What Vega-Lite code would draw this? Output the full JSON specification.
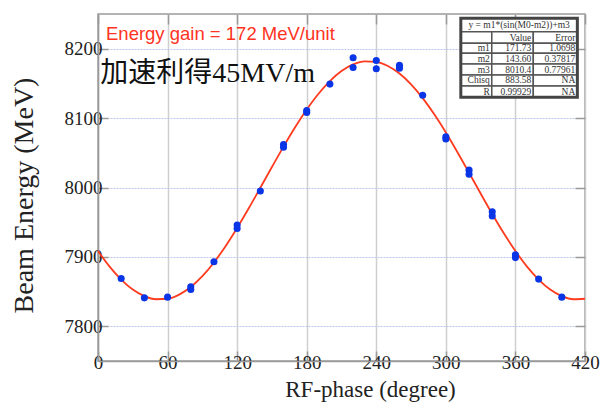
{
  "$schema": "https://vega.github.io/schema/vega-lite/v6.json",
  "width": 487,
  "height": 347,
  "autosize": {"type": "none"},
  "padding": {"left": 98, "top": 14, "right": 16, "bottom": 51},
  "background": "white",
  "config": {"view": {"stroke": "#9a9a9a", "strokeWidth": 1.5}, "font": "Liberation Serif"},
  "resolve": {"axis": {"x": "independent", "y": "independent"}},
  "datasets": {
    "fit": [
      {"phase": 0, "energy": 7908.5}, {"phase": 10, "energy": 7886.0}, {"phase": 20, "energy": 7867.4},
      {"phase": 30, "energy": 7853.0}, {"phase": 40, "energy": 7843.5}, {"phase": 50, "energy": 7839.0},
      {"phase": 60, "energy": 7839.7}, {"phase": 70, "energy": 7845.7}, {"phase": 80, "energy": 7856.6},
      {"phase": 90, "energy": 7872.2}, {"phase": 100, "energy": 7892.0}, {"phase": 110, "energy": 7915.4},
      {"phase": 120, "energy": 7941.6}, {"phase": 130, "energy": 7970.0}, {"phase": 140, "energy": 7999.6},
      {"phase": 150, "energy": 8029.5}, {"phase": 160, "energy": 8058.9}, {"phase": 170, "energy": 8086.8},
      {"phase": 180, "energy": 8112.3}, {"phase": 190, "energy": 8134.8}, {"phase": 200, "energy": 8153.4},
      {"phase": 210, "energy": 8167.8}, {"phase": 220, "energy": 8177.3}, {"phase": 230, "energy": 8181.8},
      {"phase": 240, "energy": 8181.1}, {"phase": 250, "energy": 8175.1}, {"phase": 260, "energy": 8164.2},
      {"phase": 270, "energy": 8148.6}, {"phase": 280, "energy": 8128.8}, {"phase": 290, "energy": 8105.4},
      {"phase": 300, "energy": 8079.2}, {"phase": 310, "energy": 8050.8}, {"phase": 320, "energy": 8021.2},
      {"phase": 330, "energy": 7991.3}, {"phase": 340, "energy": 7961.9}, {"phase": 350, "energy": 7934.0},
      {"phase": 360, "energy": 7908.5}, {"phase": 370, "energy": 7886.0}, {"phase": 380, "energy": 7867.4},
      {"phase": 390, "energy": 7853.0}, {"phase": 400, "energy": 7843.5}, {"phase": 410, "energy": 7839.0},
      {"phase": 420, "energy": 7839.7}
    ],
    "meas": [
      {"phase": 20, "energy": 7869}, {"phase": 40, "energy": 7841}, {"phase": 60, "energy": 7842},
      {"phase": 80, "energy": 7857}, {"phase": 80, "energy": 7853}, {"phase": 100, "energy": 7893},
      {"phase": 120, "energy": 7946}, {"phase": 120, "energy": 7941}, {"phase": 140, "energy": 7995},
      {"phase": 160, "energy": 8062}, {"phase": 160, "energy": 8058}, {"phase": 180, "energy": 8111},
      {"phase": 180, "energy": 8108}, {"phase": 200, "energy": 8149}, {"phase": 220, "energy": 8187},
      {"phase": 220, "energy": 8173}, {"phase": 240, "energy": 8183}, {"phase": 240, "energy": 8171},
      {"phase": 260, "energy": 8176}, {"phase": 260, "energy": 8172}, {"phase": 280, "energy": 8133},
      {"phase": 300, "energy": 8073}, {"phase": 300, "energy": 8070}, {"phase": 320, "energy": 8025},
      {"phase": 320, "energy": 8019}, {"phase": 340, "energy": 7965}, {"phase": 340, "energy": 7959},
      {"phase": 360, "energy": 7903}, {"phase": 360, "energy": 7899}, {"phase": 380, "energy": 7868},
      {"phase": 400, "energy": 7842}
    ],
    "cells": [
      {"x1": 312.9, "x2": 413.4, "y1": 8243.8, "y2": 8224.5},
      {"x1": 312.9, "x2": 339.6, "y1": 8224.5, "y2": 8207.8}, {"x1": 339.6, "x2": 375.4, "y1": 8224.5, "y2": 8207.8}, {"x1": 375.4, "x2": 413.4, "y1": 8224.5, "y2": 8207.8},
      {"x1": 312.9, "x2": 339.6, "y1": 8207.8, "y2": 8193.4}, {"x1": 339.6, "x2": 375.4, "y1": 8207.8, "y2": 8193.4}, {"x1": 375.4, "x2": 413.4, "y1": 8207.8, "y2": 8193.4},
      {"x1": 312.9, "x2": 339.6, "y1": 8193.4, "y2": 8178}, {"x1": 339.6, "x2": 375.4, "y1": 8193.4, "y2": 8178}, {"x1": 375.4, "x2": 413.4, "y1": 8193.4, "y2": 8178},
      {"x1": 312.9, "x2": 339.6, "y1": 8178, "y2": 8162.1}, {"x1": 339.6, "x2": 375.4, "y1": 8178, "y2": 8162.1}, {"x1": 375.4, "x2": 413.4, "y1": 8178, "y2": 8162.1},
      {"x1": 312.9, "x2": 339.6, "y1": 8162.1, "y2": 8146.3}, {"x1": 339.6, "x2": 375.4, "y1": 8162.1, "y2": 8146.3}, {"x1": 375.4, "x2": 413.4, "y1": 8162.1, "y2": 8146.3},
      {"x1": 312.9, "x2": 339.6, "y1": 8146.3, "y2": 8130}, {"x1": 339.6, "x2": 375.4, "y1": 8146.3, "y2": 8130}, {"x1": 375.4, "x2": 413.4, "y1": 8146.3, "y2": 8130}
    ],
    "outer": [{"x1": 312.9, "x2": 413.4, "y1": 8243.8, "y2": 8130}],
    "celltext": [
      {"x": 375.4, "y": 8216, "t": "Value"}, {"x": 413.4, "y": 8216, "t": "Error"},
      {"x": 339.6, "y": 8200.6, "t": "m1"}, {"x": 375.4, "y": 8200.6, "t": "171.73"}, {"x": 413.4, "y": 8200.6, "t": "1.0698"},
      {"x": 339.6, "y": 8185.6, "t": "m2"}, {"x": 375.4, "y": 8185.6, "t": "143.60"}, {"x": 413.4, "y": 8185.6, "t": "0.37817"},
      {"x": 339.6, "y": 8170, "t": "m3"}, {"x": 375.4, "y": 8170, "t": "8010.4"}, {"x": 413.4, "y": 8170, "t": "0.77961"},
      {"x": 339.6, "y": 8154.2, "t": "Chisq"}, {"x": 375.4, "y": 8154.2, "t": "883.58"}, {"x": 413.4, "y": 8154.2, "t": "NA"},
      {"x": 339.6, "y": 8138, "t": "R"}, {"x": 375.4, "y": 8138, "t": "0.99929"}, {"x": 413.4, "y": 8138, "t": "NA"}
    ],
    "header": [{"x": 363.2, "y": 8234, "t": "y = m1*(sin(M0-m2))+m3"}],
    "note1": [{"x": 6.9, "y": 8212.5, "t": "Energy gain = 172 MeV/unit"}],
    "note2": [{"x": 2, "y": 8152, "t": "加速利得45MV/m"}]
  },
  "layer": [
    {
      "data": {"name": "fit"},
      "mark": {"type": "line", "color": "#ff3b1f", "strokeWidth": 1.8, "interpolate": "monotone"},
      "encoding": {
        "x": {
          "field": "phase", "type": "quantitative",
          "scale": {"domain": [0, 420], "nice": false, "zero": false},
          "axis": {
            "values": [0, 60, 120, 180, 240, 300, 360, 420],
            "title": "RF-phase (degree)", "titleFont": "Liberation Serif", "titleFontSize": 23,
            "titleFontWeight": "normal", "titleColor": "#222", "titleX": 272, "titleY": 35,
            "titleBaseline": "alphabetic",
            "labelFont": "Liberation Serif", "labelFontSize": 19, "labelColor": "#222",
            "labelPadding": 2, "labelFlush": false,
            "grid": true, "gridColor": "#cfcfcf", "gridWidth": 1.5,
            "domainColor": "#9a9a9a", "domainWidth": 1.5,
            "tickColor": "#9a9a9a", "tickSize": -10, "tickWidth": 1.5
          }
        },
        "y": {
          "field": "energy", "type": "quantitative",
          "scale": {"domain": [7750, 8250], "nice": false, "zero": false},
          "axis": {
            "values": [7800, 7900, 8000, 8100, 8200], "format": "d",
            "title": "Beam Energy (MeV)", "titleFont": "Liberation Serif", "titleFontSize": 28,
            "titleFontWeight": "normal", "titleColor": "#222", "titleX": -66, "titleY": 181,
            "titleBaseline": "alphabetic", "titleAngle": -90,
            "labelFont": "Liberation Serif", "labelFontSize": 19, "labelColor": "#222",
            "labelPadding": 6,
            "grid": true, "gridColor": "#bcc6ea", "gridWidth": 1, "gridDash": [2, 1],
            "domainColor": "#9a9a9a", "domainWidth": 1.5,
            "tickColor": "#9a9a9a", "tickSize": -10, "tickWidth": 1.5
          }
        }
      }
    },
    {
      "data": {"name": "meas"},
      "mark": {"type": "circle", "color": "#0a35e6", "opacity": 1, "size": 50},
      "encoding": {
        "x": {"field": "phase", "type": "quantitative",
          "axis": {"orient": "top", "values": [0, 60, 120, 180, 240, 300, 360, 420], "labels": false, "title": null, "grid": false, "domain": false, "tickColor": "#9a9a9a", "tickSize": -10, "tickWidth": 1.5}},
        "y": {"field": "energy", "type": "quantitative",
          "axis": {"orient": "right", "values": [7800, 7900, 8000, 8100, 8200], "labels": false, "title": null, "grid": false, "domain": false, "tickColor": "#9a9a9a", "tickSize": -10, "tickWidth": 1.5}}
      }
    },
    {
      "data": {"name": "cells"},
      "mark": {"type": "rect", "fill": "white", "stroke": "#555", "strokeWidth": 1.5},
      "encoding": {
        "x": {"field": "x1", "type": "quantitative", "axis": null}, "x2": {"field": "x2"},
        "y": {"field": "y1", "type": "quantitative", "axis": null}, "y2": {"field": "y2"}
      }
    },
    {
      "data": {"name": "outer"},
      "mark": {"type": "rect", "fill": null, "fillOpacity": 0, "stroke": "#444", "strokeWidth": 3},
      "encoding": {
        "x": {"field": "x1", "type": "quantitative", "axis": null}, "x2": {"field": "x2"},
        "y": {"field": "y1", "type": "quantitative", "axis": null}, "y2": {"field": "y2"}
      }
    },
    {
      "data": {"name": "celltext"},
      "mark": {"type": "text", "align": "right", "baseline": "middle", "dx": -2, "font": "Liberation Serif", "fontSize": 9.5, "color": "#333"},
      "encoding": {
        "x": {"field": "x", "type": "quantitative", "axis": null},
        "y": {"field": "y", "type": "quantitative", "axis": null},
        "text": {"field": "t"}
      }
    },
    {
      "data": {"name": "header"},
      "mark": {"type": "text", "align": "center", "baseline": "middle", "font": "Liberation Serif", "fontSize": 9.5, "color": "#333"},
      "encoding": {
        "x": {"field": "x", "type": "quantitative", "axis": null},
        "y": {"field": "y", "type": "quantitative", "axis": null},
        "text": {"field": "t"}
      }
    },
    {
      "data": {"name": "note1"},
      "mark": {"type": "text", "align": "left", "baseline": "alphabetic", "font": "Liberation Sans", "fontSize": 18.5, "color": "#ff3322"},
      "encoding": {
        "x": {"field": "x", "type": "quantitative", "axis": null},
        "y": {"field": "y", "type": "quantitative", "axis": null},
        "text": {"field": "t"}
      }
    },
    {
      "data": {"name": "note2"},
      "mark": {"type": "text", "align": "left", "baseline": "alphabetic", "font": "Liberation Serif, Noto Sans CJK JP", "fontSize": 28, "color": "#111"},
      "encoding": {
        "x": {"field": "x", "type": "quantitative", "axis": null},
        "y": {"field": "y", "type": "quantitative", "axis": null},
        "text": {"field": "t"}
      }
    }
  ]
}
